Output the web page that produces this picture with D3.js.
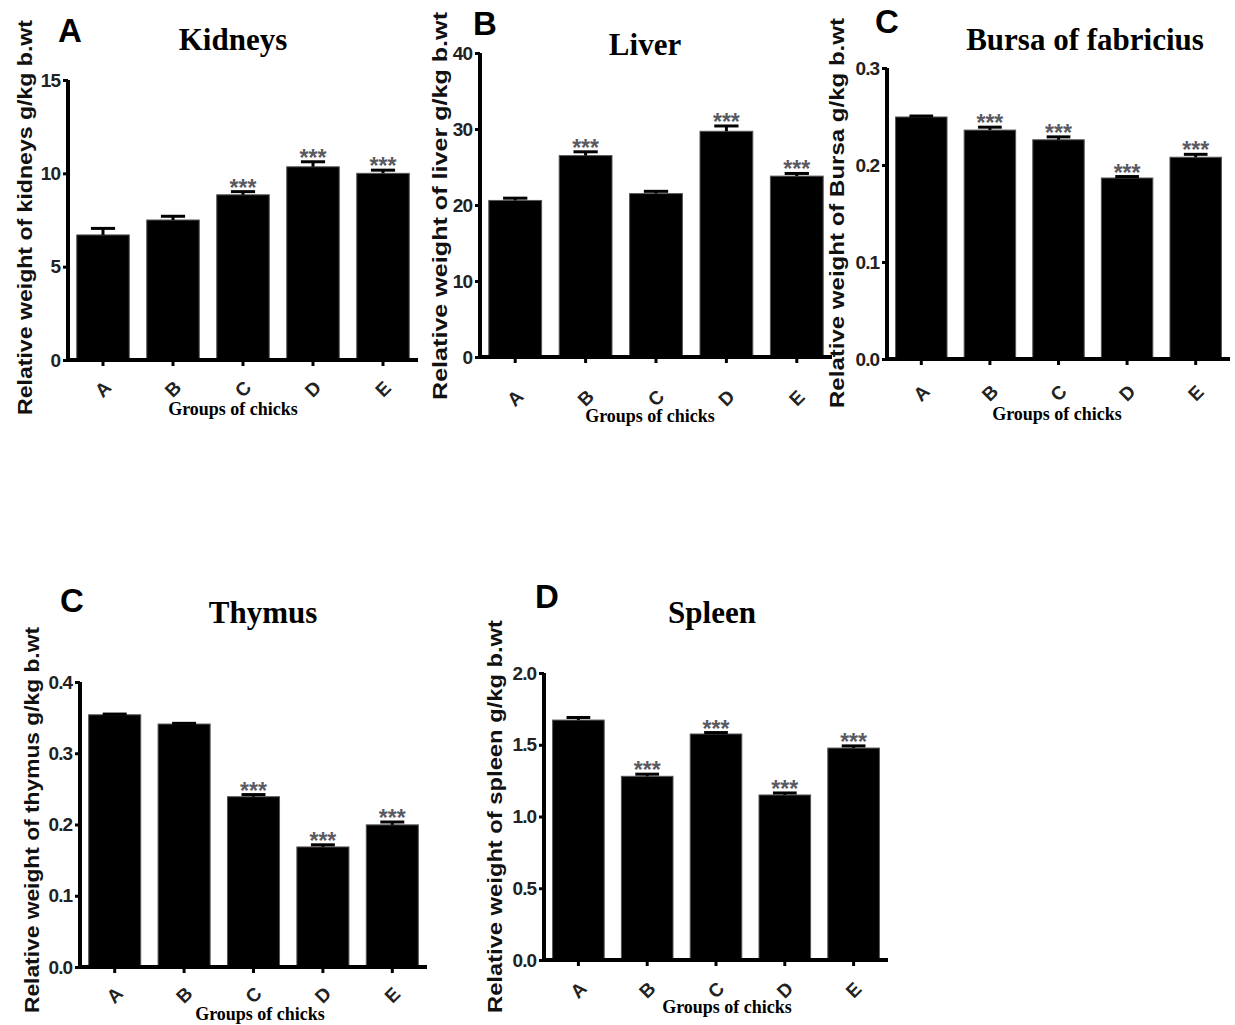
<!DOCTYPE html>
<html>
<head>
<meta charset="utf-8">
<script src="https://cdn.jsdelivr.net/npm/d3@7"></script>
<style>
  body { margin: 0; background: #fff; }
  svg { display: block; }
</style>
</head>
<body>
<svg width="1235" height="1025"></svg>
<script>
// Groups (x categories)
const groups = ["A", "B", "C", "D", "E"];

// Kidneys
const kidneysMean = [6.7, 7.5, 8.85, 10.35, 10.0];
const kidneysErr = [0.35, 0.2, 0.17, 0.27, 0.17];
const kidneysSig = ["", "", "***", "***", "***"];
const kidneysTicks = [0, 5, 10, 15];

// Liver
const liverMean = [20.6, 26.5, 21.5, 29.7, 23.8];
const liverErr = [0.3, 0.5, 0.3, 0.7, 0.35];
const liverSig = ["", "***", "", "***", "***"];
const liverTicks = [0, 10, 20, 30, 40];

// Bursa of fabricius
const bursaMean = [0.2495, 0.236, 0.226, 0.1866, 0.208];
const bursaErr = [0.001, 0.003, 0.003, 0.0015, 0.003];
const bursaSig = ["", "***", "***", "***", "***"];
const bursaTicks = [0, 0.1, 0.2, 0.3];

// Thymus
const thymusMean = [0.354, 0.341, 0.239, 0.1685, 0.1995];
const thymusErr = [0.001, 0.001, 0.003, 0.003, 0.004];
const thymusSig = ["", "", "***", "***", "***"];
const thymusTicks = [0, 0.1, 0.2, 0.3, 0.4];

// Spleen
const spleenMean = [1.672, 1.28, 1.575, 1.15, 1.477];
const spleenErr = [0.018, 0.015, 0.01, 0.014, 0.015];
const spleenSig = ["", "***", "***", "***", "***"];
const spleenTicks = [0, 0.5, 1.0, 1.5, 2.0];

const svg = d3.select("svg");
const sans = "Arial, 'Liberation Sans', sans-serif";
const serif = "'Times New Roman', 'Liberation Serif', serif";

// layout of each panel (pixels), data comes from the arrays above
const panels = [
  { letter: "A", title: "Kidneys", ylab: "Relative weight of kidneys g/kg b.wt",
    mean: kidneysMean, err: kidneysErr, sig: kidneysSig, ticks: kidneysTicks, fmt: d3.format("d"),
    x0: 68, x1: 418, yBase: 360, yTop: 80,
    letterX: 58, letterY: 42, titleX: 233, titleY: 50,
    ylabX: 32, ylabY0: 415, ylabY1: 20, tickLabY: 389, xlabX: 233, xlabY: 415 },
  { letter: "B", title: "Liver", ylab: "Relative weight of liver g/kg b.wt",
    mean: liverMean, err: liverErr, sig: liverSig, ticks: liverTicks, fmt: d3.format("d"),
    x0: 480, x1: 832, yBase: 357, yTop: 53,
    letterX: 473, letterY: 35, titleX: 645, titleY: 55,
    ylabX: 447, ylabY0: 400, ylabY1: 12, tickLabY: 398, xlabX: 650, xlabY: 422 },
  { letter: "C", title: "Bursa of fabricius", ylab: "Relative weight of Bursa g/kg b.wt",
    mean: bursaMean, err: bursaErr, sig: bursaSig, ticks: bursaTicks, fmt: d3.format(".1f"),
    x0: 887, x1: 1230, yBase: 359, yTop: 68,
    letterX: 875, letterY: 33, titleX: 1085, titleY: 50,
    ylabX: 844, ylabY0: 408, ylabY1: 18, tickLabY: 393, xlabX: 1057, xlabY: 420 },
  { letter: "C", title: "Thymus", ylab: "Relative weight of thymus g/kg b.wt",
    mean: thymusMean, err: thymusErr, sig: thymusSig, ticks: thymusTicks, fmt: d3.format(".1f"),
    x0: 80, x1: 427, yBase: 967, yTop: 682,
    letterX: 60, letterY: 612, titleX: 263, titleY: 623,
    ylabX: 39, ylabY0: 1013, ylabY1: 627, tickLabY: 995, xlabX: 260, xlabY: 1020 },
  { letter: "D", title: "Spleen", ylab: "Relative weight of spleen g/kg b.wt",
    mean: spleenMean, err: spleenErr, sig: spleenSig, ticks: spleenTicks, fmt: d3.format(".1f"),
    x0: 544, x1: 888, yBase: 960, yTop: 673,
    letterX: 535, letterY: 608, titleX: 712, titleY: 623,
    ylabX: 502, ylabY0: 1013, ylabY1: 620, tickLabY: 990, xlabX: 727, xlabY: 1013 }
];

panels.forEach(function(p) {
  const g = svg.append("g");
  const rows = groups.map((k, i) => ({ group: k, mean: p.mean[i], err: p.err[i], sig: p.sig[i] }));

  const x = d3.scaleBand()
    .domain(groups)
    .range([p.x0, p.x1])
    .paddingInner(0.25)
    .paddingOuter(0.125);

  const y = d3.scaleLinear()
    .domain([0, d3.max(p.ticks)])
    .range([p.yBase, p.yTop]);

  // bars
  g.selectAll("rect.bar")
    .data(rows)
    .enter()
    .append("rect")
    .attr("class", "bar")
    .attr("x", d => x(d.group))
    .attr("y", d => y(d.mean))
    .attr("width", x.bandwidth())
    .attr("height", d => y(0) - y(d.mean))
    .attr("fill", "#000")
    .attr("stroke", "#555")
    .attr("stroke-width", 1);

  // error bars
  const capW = x.bandwidth() * 0.46;
  g.selectAll("line.ebar")
    .data(rows)
    .enter()
    .append("line")
    .attr("x1", d => x(d.group) + x.bandwidth() / 2)
    .attr("x2", d => x(d.group) + x.bandwidth() / 2)
    .attr("y1", d => y(d.mean))
    .attr("y2", d => y(d.mean + d.err))
    .attr("stroke", "#000")
    .attr("stroke-width", 3);
  g.selectAll("line.cap")
    .data(rows)
    .enter()
    .append("line")
    .attr("x1", d => x(d.group) + x.bandwidth() / 2 - capW / 2)
    .attr("x2", d => x(d.group) + x.bandwidth() / 2 + capW / 2)
    .attr("y1", d => y(d.mean + d.err))
    .attr("y2", d => y(d.mean + d.err))
    .attr("stroke", "#000")
    .attr("stroke-width", 3);

  // significance stars
  g.selectAll("text.sig")
    .data(rows.filter(d => d.sig))
    .enter()
    .append("text")
    .attr("x", d => x(d.group) + x.bandwidth() / 2)
    .attr("y", d => y(d.mean + d.err) + 4)
    .attr("text-anchor", "middle")
    .style("font-family", sans)
    .style("font-weight", "bold")
    .style("font-size", "23px")
    .style("fill", "#5a5a62")
    .text(d => d.sig);

  // y axis
  const yAxis = d3.axisLeft(y)
    .tickValues(p.ticks)
    .tickFormat(p.fmt)
    .tickSize(5)
    .tickPadding(3);
  const ya = g.append("g")
    .attr("transform", `translate(${p.x0},0)`)
    .call(yAxis);
  ya.select(".domain")
    .attr("d", `M0,${p.yTop}V${p.yBase}`)
    .attr("stroke", "#000")
    .attr("stroke-width", 4);
  ya.selectAll(".tick line").attr("stroke", "#000").attr("stroke-width", 3);
  ya.selectAll(".tick text")
    .style("font-family", sans)
    .style("font-weight", "bold")
    .style("font-size", "19px")
    .style("letter-spacing", "-1px")
    .style("fill", "#222");

  // x axis
  const xAxis = d3.axisBottom(x).tickSize(6).tickFormat("");
  const xa = g.append("g")
    .attr("transform", `translate(0,${p.yBase})`)
    .call(xAxis);
  xa.select(".domain")
    .attr("d", `M${p.x0 - 2},0H${p.x1}`)
    .attr("stroke", "#000")
    .attr("stroke-width", 4);
  xa.selectAll(".tick line").attr("stroke", "#000").attr("stroke-width", 3);

  // rotated group labels
  g.selectAll("text.xl")
    .data(groups)
    .enter()
    .append("text")
    .attr("transform", d => `translate(${x(d) + x.bandwidth() / 2},${p.tickLabY}) rotate(-45)`)
    .attr("text-anchor", "middle")
    .attr("dy", "0.35em")
    .style("font-family", sans)
    .style("font-weight", "bold")
    .style("font-size", "19px")
    .style("fill", "#222")
    .text(d => d);

  // axis titles
  g.append("text")
    .attr("transform", `translate(${p.ylabX},${p.ylabY0}) rotate(-90)`)
    .attr("textLength", p.ylabY0 - p.ylabY1)
    .attr("lengthAdjust", "spacingAndGlyphs")
    .style("font-family", sans)
    .style("font-weight", "bold")
    .style("font-size", "20px")
    .style("fill", "#111")
    .text(p.ylab);

  g.append("text")
    .attr("x", p.xlabX)
    .attr("y", p.xlabY)
    .attr("text-anchor", "middle")
    .style("font-family", serif)
    .style("font-weight", "bold")
    .style("font-size", "18px")
    .style("fill", "#000")
    .text("Groups of chicks");

  // panel title and letter
  g.append("text")
    .attr("x", p.titleX)
    .attr("y", p.titleY)
    .attr("text-anchor", "middle")
    .style("font-family", serif)
    .style("font-weight", "bold")
    .style("font-size", "31px")
    .text(p.title);

  g.append("text")
    .attr("x", p.letterX)
    .attr("y", p.letterY)
    .style("font-family", sans)
    .style("font-weight", "bold")
    .style("font-size", "33px")
    .text(p.letter);
});
</script>
</body>
</html>
